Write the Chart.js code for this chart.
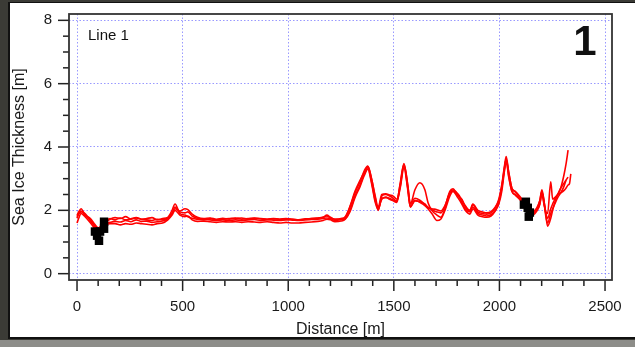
<!DOCTYPE html>
<html>
<head>
<meta charset="utf-8">
<script src="https://cdn.jsdelivr.net/npm/chart.js@4.4.0/dist/chart.umd.min.js"></script>
<style>
    html, body { margin: 0; padding: 0; }
    body { width: 635px; height: 347px; background: #3b3b36; position: relative; overflow: hidden; }
    #panel { position: absolute; left: 8px; top: 2px; width: 627px; height: 337px; background: #fff;
             border-left: 2px solid #111; border-top: 1px solid #111; border-bottom: 2px solid #111; box-sizing: border-box; }
    #bar { position: absolute; left: 0; top: 340px; width: 635px; height: 7px; background: #8d8d89; }
    #wrap { position: absolute; left: 0; top: 0; width: 635px; height: 347px; }
</style>
</head>
<body>
<div id="panel"></div>
<div id="bar"></div>
<div id="wrap"><canvas id="chart" width="635" height="347"></canvas></div>
<script>
// distance along the transect [m], shared by all runs
const distance = [
    0, 8, 19, 38, 62, 85, 100, 114, 137, 156,
    180, 205, 230, 255, 280, 305, 330, 355, 380, 405,
    430, 450, 464, 487, 511, 525, 545, 570, 600, 630,
    660, 690, 720, 750, 780, 810, 840, 870, 900, 930,
    960, 990, 1020, 1050, 1080, 1110, 1140, 1165, 1183, 1200,
    1221, 1250, 1270, 1292, 1316, 1340, 1360, 1377, 1396, 1412,
    1426, 1443, 1462, 1480, 1497, 1514, 1530, 1548, 1566, 1578,
    1600, 1623, 1647, 1662, 1680, 1704, 1722, 1742, 1765, 1780,
    1803, 1822, 1838, 1860, 1874, 1898, 1920, 1940, 1960, 1980,
    1997, 2011, 2025, 2032, 2044, 2059, 2075, 2095, 2112, 2128,
    2142, 2158, 2177, 2191, 2201, 2212, 2220, 2228, 2243, 2252,
    2262, 2276, 2290, 2305, 2315, 2325, 2332, 2338
]

// sea ice thickness [m] for each repeated run
const run1 = [
    1.85, 1.95, 2.05, 1.85, 1.72, 1.48, 1.30, 1.42, 1.62, 1.72,
    1.77, 1.74, 1.80, 1.72, 1.76, 1.72, 1.74, 1.77, 1.70, 1.74,
    1.78, 2.00, 2.20, 1.90, 1.85, 1.80, 1.75, 1.72, 1.70, 1.74,
    1.70, 1.72, 1.74, 1.76, 1.72, 1.74, 1.76, 1.73, 1.72, 1.74,
    1.72, 1.73, 1.72, 1.70, 1.72, 1.74, 1.75, 1.78, 1.85, 1.78,
    1.72, 1.74, 1.80, 2.10, 2.55, 2.90, 3.25, 3.40, 2.95, 2.40,
    2.00, 2.45, 2.50, 2.45, 2.38, 2.28, 2.85, 3.48, 2.80, 2.20,
    2.65, 2.87, 2.65, 2.24, 2.00, 1.85, 1.78, 2.05, 2.55, 2.62,
    2.50, 2.25, 2.05, 1.95, 2.18, 1.95, 1.90, 1.88, 1.92, 2.08,
    2.35, 2.80, 3.45, 3.70, 3.20, 2.70, 2.58, 2.42, 2.30, 2.05,
    1.85, 1.88, 2.05, 2.30, 2.65, 2.25, 1.85, 1.50, 1.75, 2.00,
    2.25, 2.50, 2.70, 3.10, 3.45, 3.90, null, null
]
const run2 = [
    1.75, 1.88, 1.95, 1.90, 1.68, 1.50, 1.40, 1.52, 1.58, 1.62,
    1.65, 1.63, 1.68, 1.64, 1.70, 1.65, 1.66, 1.62, 1.64, 1.66,
    1.74, 1.90, 2.10, 1.95, 1.92, 1.95, 1.82, 1.75, 1.72, 1.70,
    1.68, 1.70, 1.67, 1.70, 1.68, 1.70, 1.71, 1.68, 1.70, 1.69,
    1.68, 1.70, 1.69, 1.68, 1.70, 1.71, 1.72, 1.74, 1.76, 1.74,
    1.68, 1.70, 1.74, 2.00, 2.45, 2.80, 3.15, 3.35, 2.85, 2.30,
    2.08, 2.35, 2.42, 2.35, 2.30, 2.25, 2.75, 3.40, 2.70, 2.10,
    2.30, 2.28, 2.20, 2.10, 2.02, 1.95, 1.92, 2.12, 2.60, 2.68,
    2.45, 2.35, 2.12, 1.98, 2.10, 1.90, 1.85, 1.82, 1.86, 2.00,
    2.25, 2.70, 3.35, 3.60, 3.10, 2.60, 2.50, 2.38, 2.25, 2.10,
    1.90, 1.92, 2.00, 2.20, 2.50, 2.15, 1.90, 1.75, 2.05, 2.20,
    2.35, 2.50, 2.55, 2.62, 2.70, 2.80, 2.85, 3.15
]
const run3 = [
    1.60, 1.75, 1.90, 1.80, 1.62, 1.42, 1.35, 1.48, 1.55, 1.58,
    1.58, 1.54, 1.58, 1.56, 1.60, 1.58, 1.56, 1.54, 1.58, 1.60,
    1.70, 1.85, 2.00, 1.85, 1.80, 1.82, 1.70, 1.65, 1.66, 1.64,
    1.62, 1.64, 1.63, 1.64, 1.62, 1.64, 1.63, 1.62, 1.64, 1.62,
    1.60, 1.62, 1.60, 1.60, 1.62, 1.63, 1.65, 1.68, 1.72, 1.70,
    1.64, 1.66, 1.72, 1.95, 2.40, 2.75, 3.10, 3.30, 2.80, 2.25,
    2.02, 2.38, 2.40, 2.38, 2.32, 2.30, 2.70, 3.35, 2.65, 2.12,
    2.32, 2.25, 2.15, 2.05, 1.90, 1.68, 1.72, 2.00, 2.45, 2.60,
    2.40, 2.20, 2.00, 1.88, 2.05, 1.85, 1.80, 1.78, 1.82, 1.98,
    2.20, 2.60, 3.30, 3.55, 3.05, 2.60, 2.48, 2.35, 2.20, 2.00,
    1.80, 1.84, 1.98, 2.18, 2.55, 2.20, 1.95, 1.90, 2.90, 2.35,
    2.40, 2.50, 2.70, 2.85, 2.95, 3.05, null, null
]
const run4 = [
    1.80, 1.92, 1.98, 1.85, 1.75, 1.55, 1.45, 1.50, 1.65, 1.74,
    1.70, 1.76, 1.70, 1.73, 1.77, 1.72, 1.70, 1.68, 1.72, 1.70,
    1.76, 1.90, 2.05, 1.98, 2.05, 2.02, 1.88, 1.78, 1.74, 1.76,
    1.72, 1.75, 1.72, 1.74, 1.76, 1.72, 1.75, 1.74, 1.72, 1.73,
    1.72, 1.74, 1.72, 1.70, 1.73, 1.74, 1.76, 1.78, 1.82, 1.76,
    1.72, 1.72, 1.78, 2.12, 2.60, 2.95, 3.20, 3.38, 2.95, 2.45,
    2.10, 2.50, 2.52, 2.48, 2.45, 2.35, 2.80, 3.45, 2.78, 2.20,
    2.38, 2.32, 2.18, 2.08, 2.05, 2.02, 1.98, 2.15, 2.55, 2.65,
    2.52, 2.33, 2.15, 2.00, 2.20, 2.00, 1.95, 1.92, 1.96, 2.10,
    2.30, 2.75, 3.40, 3.62, 3.20, 2.70, 2.60, 2.45, 2.30, 2.12,
    1.92, 1.95, 2.08, 2.30, 2.60, 2.25, 1.80, 1.60, 1.90, 2.05,
    2.20, 2.40, 2.55, 2.75, 2.95, null, null, null
]

// black square markers (drill holes)
const markerDistance = [85, 95, 104, 109, 128, 128, 2116, 2125, 2134, 2139, 2144]
const markerThickness = [1.33, 1.20, 1.04, 1.33, 1.42, 1.64, 2.18, 2.27, 2.08, 1.80, 1.93]

// labelled (major) tick values
const xTickLabels = [0, 500, 1000, 1500, 2000, 2500]
const yTickLabels = [0, 2, 4, 6, 8]

const fontFamily = '"Liberation Sans", Arial, sans-serif'
Chart.defaults.font.family = fontFamily
Chart.defaults.color = '#1a1a1a'


function toPoints(xs, ys) {
    return xs.map((x, i) => ({ x: x, y: ys[i] }))
}


function runDataset(values) {
    return {
        data: toPoints(distance, values),
        borderColor: '#ff0000',
        borderWidth: 1.6,
        pointRadius: 0,
        cubicInterpolationMode: 'monotone',
        spanGaps: true,
        fill: false,
        order: 1
    }
}


// frame, outward major/minor ticks and the two labels in the plot
const framePlugin = {
    id: 'framePlugin',
    afterDraw(chart) {
        const { ctx, chartArea: a, scales: { x, y } } = chart
        ctx.save()
        ctx.strokeStyle = '#222'
        ctx.lineWidth = 1.5

        for (let v = 0; v <= 2500; v += 100) {
            const px = x.getPixelForValue(v)
            const len = v % 500 === 0 ? 11 : 6
            ctx.beginPath()
            ctx.moveTo(px, a.bottom)
            ctx.lineTo(px, a.bottom + len)
            ctx.stroke()
        }
        for (let v = 0; v <= 8; v += 0.5) {
            const py = y.getPixelForValue(v)
            const len = v % 2 === 0 ? 11 : 6
            ctx.beginPath()
            ctx.moveTo(a.left, py)
            ctx.lineTo(a.left - len, py)
            ctx.stroke()
        }

        ctx.strokeStyle = '#333'
        ctx.lineWidth = 1.8
        ctx.strokeRect(a.left, a.top, a.right - a.left, a.bottom - a.top)

        ctx.fillStyle = '#111'
        ctx.textBaseline = 'middle'
        ctx.textAlign = 'left'
        ctx.font = '15px ' + fontFamily
        ctx.fillText('Line 1', 88, 36)
        ctx.textAlign = 'center'
        ctx.font = 'bold 42px ' + fontFamily
        ctx.fillText('1', 585, 43)
        ctx.restore()
    }
}


const gridColor = 'rgba(110, 110, 255, 0.7)'

const chart = new Chart(document.getElementById('chart'), {
    type: 'line',
    data: {
        datasets: [
            runDataset(run1),
            runDataset(run2),
            runDataset(run3),
            runDataset(run4),
            {
                type: 'scatter',
                data: toPoints(markerDistance, markerThickness),
                backgroundColor: '#000',
                borderColor: '#000',
                borderWidth: 0,
                pointStyle: 'rect',
                pointRadius: 6,
                order: 0
            }
        ]
    },
    options: {
        responsive: false,
        animation: false,
        layout: { padding: { left: 0, top: 14, right: 23, bottom: 0 } },
        plugins: { legend: { display: false }, tooltip: { enabled: false } },
        scales: {
            x: {
                type: 'linear',
                min: -38,
                max: 2533,
                afterFit: (s) => {
                    s.height = 67
                    s.paddingLeft = 0
                    s.paddingRight = 0
                },
                afterBuildTicks: (s) => { s.ticks = xTickLabels.map(v => ({ value: v })) },
                ticks: {
                    autoSkip: false,
                    maxRotation: 0,
                    padding: 18,
                    font: { size: 15 },
                    callback: (v) => String(v)
                },
                grid: { color: gridColor, lineWidth: 1, drawTicks: false },
                border: { display: false, dash: [1.5, 2] },
                title: {
                    display: true,
                    text: 'Distance [m]',
                    font: { size: 16 },
                    padding: { top: 0, bottom: 8 }
                }
            },
            y: {
                type: 'linear',
                min: -0.2,
                max: 8.2,
                afterFit: (s) => {
                    s.width = 69
                    s.paddingTop = 0
                    s.paddingBottom = 0
                },
                afterBuildTicks: (s) => { s.ticks = yTickLabels.map(v => ({ value: v })) },
                ticks: {
                    autoSkip: false,
                    padding: 17,
                    font: { size: 15 },
                    callback: (v) => String(v)
                },
                grid: { color: gridColor, lineWidth: 1, drawTicks: false },
                border: { display: false, dash: [1.5, 2] },
                title: {
                    display: true,
                    text: 'Sea Ice Thickness [m]',
                    font: { size: 16 },
                    padding: { top: 10, bottom: 0 }
                }
            }
        }
    },
    plugins: [framePlugin]
})
</script>
</body>
</html>
